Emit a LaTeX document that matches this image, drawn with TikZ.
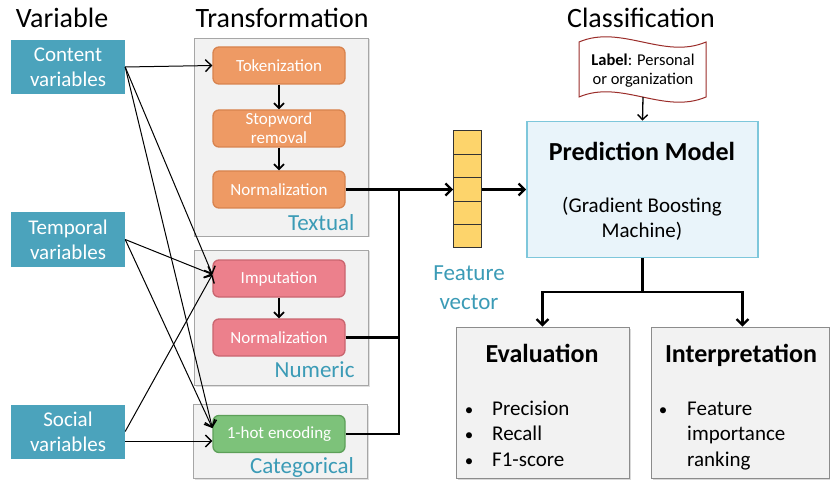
\documentclass[tikz,border=0pt]{standalone}
\usepackage{fontspec}
\setmainfont{Carlito}
\usetikzlibrary{arrows.meta,shadows}

\definecolor{varteal}{HTML}{4BA3BC}
\definecolor{labteal}{HTML}{3B9BB6}
\definecolor{orfill}{HTML}{EE9A64}
\definecolor{ordraw}{HTML}{D8834E}
\definecolor{pkfill}{HTML}{EC808C}
\definecolor{pkdraw}{HTML}{C9656F}
\definecolor{grfill}{HTML}{7DC27A}
\definecolor{grdraw}{HTML}{5DA059}
\definecolor{grpfill}{HTML}{F2F2F2}
\definecolor{grpdraw}{HTML}{A6A6A6}
\definecolor{yelfill}{HTML}{FDD46B}
\definecolor{pmfill}{HTML}{E9F4FA}
\definecolor{pmdraw}{HTML}{7EC7DB}
\definecolor{docred}{HTML}{9B2D2A}

\tikzset{
  fsz/.style={font=\fontsize{#1}{#1}\selectfont},
  bsz/.style={font=\fontsize{#1}{#1}\selectfont\bfseries},
  title/.style={fsz=28, anchor=base},
  varbox/.style={fill=varteal, text=white, minimum width=114pt, minimum height=54pt,
    inner sep=0pt, align=center, font=\fontsize{21}{25}\selectfont},
  grpbox/.style={fill=grpfill, draw=grpdraw, line width=0.8pt, inner sep=0pt,
    drop shadow={shadow xshift=1.5pt, shadow yshift=-1.5pt, opacity=0.25}},
  grplabel/.style={anchor=base east, text=labteal, fsz=23},
  stepbox/.style={rounded corners=6pt, line width=1.3pt, text=white, minimum width=132pt,
    minimum height=37pt, inner sep=0pt, align=center, font=\fontsize{17}{19}\selectfont},
  orbox/.style={stepbox, fill=orfill, draw=ordraw},
  pkbox/.style={stepbox, fill=pkfill, draw=pkdraw},
  gnbox/.style={stepbox, fill=grfill, draw=grdraw},
  cell/.style={fill=yelfill, draw=black!80, line width=1pt, minimum width=28pt,
    minimum height=23.4pt, inner sep=0pt},
  resbox/.style={fill=grpfill, draw=black!45, line width=0.8pt, inner sep=0pt,
    drop shadow={shadow xshift=1.5pt, shadow yshift=-1.5pt, opacity=0.3}},
  tip/.style={-{Straight Barb[length=6pt,width=12pt,line width=1.4pt]}},
  thin/.style={line width=1pt, tip},
  down/.style={line width=1.8pt, -{Straight Barb[length=5pt,width=10pt,line width=1.8pt]}},
  thickline/.style={line width=2.2pt},
  thickarrow/.style={line width=2.2pt, -{Straight Barb[length=6pt,width=12pt,line width=2.2pt]}},
  bullet/.style={anchor=base, fsz=17},
  item/.style={anchor=base west, inner xsep=0pt, fsz=21},
}

\begin{document}
\begin{tikzpicture}[x=1pt, y=-1pt]
\useasboundingbox (0,0) rectangle (830,481);

% column headings
\node[title] (hvar) at (62,28) {Variable};
\node[title] (htr) at (282,28) {Transformation};
\node[title] (hcl) at (641,28) {Classification};

% input variables
\node[varbox] (content) at (68,67) {Content\\variables};
\node[varbox] (temporal) at (68,239.5) {Temporal\\variables};
\node[varbox] (social) at (68,431.5) {Social\\variables};

% transformation groups
\node[grpbox, minimum width=174pt, minimum height=198pt] (gtext) at (281,137) {};
\node[grpbox, minimum width=174pt, minimum height=135pt] (gnum) at (281,317.5) {};
\node[grpbox, minimum width=174pt, minimum height=74pt] (gcat) at (280.5,441) {};
\node[grplabel] (ltext) at (358,231) {Textual};
\node[grplabel] (lnum) at (358,377) {Numeric};
\node[grplabel] (lcat) at (357.5,473) {Categorical};

% transformation steps
\node[orbox] (tok) at (279,65.5) {Tokenization};
\node[orbox] (stop) at (279,128.5) {Stopword\\removal};
\node[orbox] (norm1) at (279,189.5) {Normalization};
\node[pkbox] (imp) at (279,278.5) {Imputation};
\node[pkbox] (norm2) at (279,337.5) {Normalization};
\node[gnbox] (onehot) at (279,434) {1-hot encoding};

\draw[down] (tok) -- (stop);
\draw[down] (stop) -- (norm1);
\draw[down] (imp) -- (norm2);

% variable to transformation connectors
\coordinate (impin) at ([yshift=4pt]imp.west);
\coordinate (ohin) at ([yshift=6pt]onehot.west);
\coordinate (ohsoc) at ([yshift=-7pt]onehot.west);
\coordinate (socout) at ([yshift=-9.5pt]social.east);
\draw[thin] (content.east) -- (tok.west);
\draw[thin] (content.east) -- (impin);
\draw[thin] (content.east) -- (ohin);
\draw[thin] (temporal.east) -- (impin);
\draw[thin] (temporal.east) -- (ohin);
\draw[thin] (social.east) -- (impin);
\draw[thin] (socout) -- (ohsoc);

% feature vector
\node[cell] (c1) at (467.5,142.7) {};
\node[cell] (c2) at (467.5,166.1) {};
\node[cell] (c3) at (467.5,189.5) {};
\node[cell] (c4) at (467.5,212.9) {};
\node[cell] (c5) at (467.5,236.3) {};
\node[anchor=base, text=labteal, fsz=23] (fv1) at (469,280) {Feature};
\node[anchor=base, text=labteal, fsz=23] (fv2) at (469,309) {vector};

% merging into the feature vector
\coordinate (join) at (399,189.5);
\draw[thickarrow] (norm1.east) -- (c3.west);
\draw[thickline] (norm2.east) -| (join);
\draw[thickline] (onehot.east) -| (join);

% prediction model
\node[fill=pmfill, draw=pmdraw, line width=1.8pt, minimum width=231pt, minimum height=136pt,
  inner sep=0pt] (pm) at (642.5,189.5) {};
\node[anchor=base, bsz=26] (pmt) at (642,161) {Prediction Model};
\node[anchor=base, fsz=21] (pmsub1) at (642,213) {(Gradient Boosting};
\node[anchor=base, fsz=21] (pmsub2) at (642,238) {Machine)};
\draw[thickarrow] (c3.east) -- (pm.west);

% label document
\draw[draw=docred, fill=white, line width=1pt]
  (579,42) .. controls (621,24) and (664,60) .. (706,42) -- (706,97)
  .. controls (664,115) and (621,79) .. (579,97) -- cycle;
\node[anchor=base, fsz=16.5] (lbl1) at (643,66) {\textbf{Label}: Personal};
\node[anchor=base, fsz=16.5] (lbl2) at (643,85) {or organization};
\coordinate (docb) at (643,97);
\draw[line width=1.3pt, -{Straight Barb[length=5pt,width=10pt,line width=1.4pt]}] (docb) -- (pm.north);

% evaluation and interpretation
\node[resbox, minimum width=173pt, minimum height=151pt] (eval) at (542.5,402.5) {};
\node[resbox, minimum width=178pt, minimum height=151pt] (interp) at (740,402.5) {};
\node[anchor=base, bsz=26] (evt) at (542,362) {Evaluation};
\node[anchor=base, bsz=26] (int) at (741,362) {Interpretation};

\coordinate (split) at (642.5,292);
\draw[thickline] (pm.south) -- (split);
\draw[thickarrow] (split) -| (eval.north);
\draw[thickarrow] (split) -| ([xshift=2.5pt]interp.north);

\foreach \yy/\txt [count=\i] in {415/Precision, 440/Recall, 466/F1-score}{
  \node[bullet] (eb\i) at (469,\yy) {•};
  \node[item] (et\i) at (492,\yy) {\txt};
}
\node[bullet] (ib1) at (663,415) {•};
\node[item] (it1) at (687,415) {Feature};
\node[item] (it2) at (687,440) {importance};
\node[item] (it3) at (687,466) {ranking};
\end{tikzpicture}
\end{document}
